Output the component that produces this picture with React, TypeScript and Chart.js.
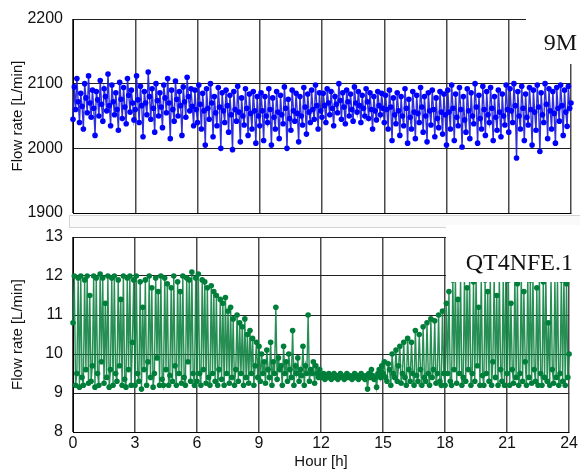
import React, { useEffect, useRef } from "react";
import { Chart, registerables } from "chart.js";
Chart.register(...registerables);

const HOUR_STEP = 0.0625; // sampling interval in hours
const X_MIN = 0;
const X_MAX = 24;
const X_STEP = 3;

const topLabel = "9M";
const bottomLabel = "QT4NFE.1";
const yTitle = "Flow rate [L/min]";
const xTitle = "Hour [h]";

const topYRange = [1900, 2200];
const topYStep = 100;
const bottomYRange = [8, 13];
const bottomYStep = 1;

// 9M flow rate [L/min]
const topValues = [
  2045, 2095, 2060, 2108, 2072, 2040, 2085, 2065, 2030, 2100, 2078, 2055, 2112, 2070, 2048, 2090, 2062, 2020, 2088, 2075, 2050, 2105, 2068, 2042,
  2092, 2080, 2058, 2115, 2066, 2035, 2098, 2072, 2052, 2086, 2060, 2028, 2102, 2076, 2046, 2094, 2064, 2038, 2108, 2082, 2056, 2090, 2070, 2044,
  2060, 2112, 2075, 2040, 2096, 2066, 2018, 2088, 2070, 2052, 2118, 2080, 2045, 2092, 2062, 2025, 2100, 2074, 2050, 2086, 2064, 2032, 2098, 2078,
  2055, 2108, 2070, 2015, 2090, 2060, 2042, 2104, 2076, 2050, 2088, 2066, 2020, 2095, 2072, 2048, 2110, 2080, 2058, 2092, 2065, 2035, 2090, 2060,
  2040, 2098, 2068, 2030, 2085, 2058, 2005, 2092, 2062, 2045, 2100, 2070, 2018, 2080, 2055, 2035, 2094, 2064, 2000, 2086, 2058, 2040, 2090, 2066,
  2025, 2082, 2052, 1998, 2088, 2060, 2042, 2096, 2056, 2010, 2078, 2050, 2036, 2092, 2062, 2020, 2084, 2054, 2030, 2088, 2058, 2008, 2080, 2050,
  2035, 2086, 2058, 2012, 2080, 2050, 2040, 2092, 2060, 2005, 2078, 2048, 2030, 2088, 2056, 2015, 2082, 2052, 2038, 2095, 2062, 2000, 2076, 2046,
  2028, 2090, 2058, 2042, 2085, 2054, 2010, 2080, 2050, 2036, 2094, 2064, 2022, 2084, 2056, 2040, 2090, 2060, 2045, 2098, 2066, 2030, 2086, 2058,
  2048, 2085, 2066, 2040, 2092, 2070, 2052, 2088, 2062, 2035, 2080, 2068, 2055, 2100, 2074, 2045, 2086, 2064, 2038, 2090, 2072, 2050, 2084, 2060,
  2042, 2095, 2070, 2056, 2088, 2066, 2040, 2082, 2062, 2050, 2092, 2072, 2046, 2086, 2060, 2030, 2080, 2058, 2044, 2088, 2066, 2052, 2085, 2062,
  2040, 2082, 2060, 2030, 2090, 2064, 2012, 2078, 2052, 2038, 2086, 2058, 2020, 2080, 2050, 2035, 2092, 2062, 2008, 2076, 2048, 2030, 2088, 2056,
  2015, 2082, 2054, 2040, 2094, 2064, 2025, 2080, 2050, 2010, 2086, 2058, 2036, 2090, 2060, 2018, 2078, 2046, 2032, 2088, 2056, 2022, 2084, 2052,
  2005, 2090, 2056, 2030, 2098, 2062, 2012, 2084, 2048, 2035, 2094, 2060, 2002, 2080, 2044, 2025, 2092, 2058, 2015, 2086, 2050, 2038, 2100, 2064,
  2008, 2082, 2046, 2030, 2096, 2060, 2020, 2088, 2052, 2040, 2094, 2062, 2012, 2080, 2048, 2028, 2090, 2056, 2018, 2084, 2050, 2036, 2098, 2060,
  2025, 2092, 2058, 2040, 2100, 2066, 1985, 2088, 2050, 2030, 2096, 2062, 2012, 2084, 2048, 2036, 2094, 2060, 2005, 2090, 2056, 2028, 2098, 2064,
  1995, 2086, 2052, 2040, 2100, 2068, 2015, 2092, 2058, 2030, 2088, 2054, 2008, 2094, 2062, 2042, 2098, 2066, 2020, 2090, 2056, 2034, 2096, 2062,
  2070,
];

// QT4NFE.1 flow rate [L/min]
const bottomValues = [
  10.8, 12.0, 9.2, 9.5, 11.95, 9.15, 12.0, 9.4, 9.2, 11.9, 9.6, 12.0, 9.25, 11.5, 9.3, 9.7, 12.0, 9.15, 11.95, 9.5, 9.2, 12.05, 9.8, 11.95,
  9.25, 11.3, 9.4, 12.0, 9.15, 9.6, 11.95, 9.2, 12.0, 9.5, 9.3, 11.9, 9.7, 11.4, 9.2, 12.0, 9.35, 9.15, 11.95, 9.6, 12.0, 9.2, 10.3, 11.9,
  9.2, 12.0, 9.5, 9.3, 11.85, 9.1, 11.2, 9.6, 11.9, 9.2, 9.8, 12.0, 9.4, 11.7, 9.15, 9.5, 11.95, 9.9, 11.6, 9.2, 12.0, 9.35, 9.2, 11.95,
  9.6, 11.8, 9.2, 9.45, 11.7, 9.3, 12.0, 9.7, 9.2, 11.85, 9.5, 11.6, 9.25, 12.0, 9.4, 9.2, 11.95, 9.8, 11.9, 9.3, 12.1, 9.5, 9.2, 11.95,
  9.3, 12.05, 9.5, 9.2, 11.9, 9.6, 11.85, 9.25, 11.7, 9.4, 9.2, 11.75, 9.5, 11.6, 9.3, 11.5, 9.2, 9.6, 11.4, 9.35, 11.3, 9.2, 11.45, 9.5,
  11.1, 9.25, 11.2, 9.4, 10.9, 9.2, 9.6, 11.0, 9.3, 10.8, 9.5, 10.7, 9.2, 10.9, 9.4, 10.5, 9.25, 10.6, 9.5, 10.4, 9.2, 9.7, 10.3, 9.4,
  10.2, 9.3, 10.0, 9.5, 9.8, 9.25, 10.1, 9.6, 9.4, 10.3, 9.2, 9.8, 9.5, 11.2, 9.35, 9.9, 9.6, 9.7, 9.2, 10.2, 9.5, 9.8, 9.3, 10.0,
  9.6, 9.4, 10.6, 9.2, 9.7, 9.5, 9.9, 9.3, 9.6, 9.45, 10.2, 9.2, 9.7, 9.5, 11.0, 9.3, 9.6, 9.5, 9.8, 9.25, 9.7, 9.5, 9.4, 9.6,
  9.45, 9.4, 9.5, 9.35, 9.45, 9.4, 9.5, 9.45, 9.35, 9.4, 9.5, 9.4, 9.45, 9.35, 9.4, 9.5, 9.45, 9.4, 9.35, 9.45, 9.5, 9.4, 9.45, 9.4,
  9.35, 9.45, 9.5, 9.4, 9.45, 9.35, 9.4, 9.5, 9.45, 9.4, 9.35, 9.45, 9.1, 9.5, 9.4, 9.6, 9.45, 9.35, 9.4, 9.15, 9.5, 9.6, 9.4, 9.7,
  9.5, 9.8, 9.4, 9.3, 9.75, 9.6, 9.2, 10.0, 9.5, 9.4, 10.1, 9.3, 9.7, 10.2, 9.25, 9.5, 10.3, 9.4, 9.2, 10.4, 9.6, 9.3, 10.3, 9.5,
  9.2, 10.6, 9.45, 9.3, 10.5, 9.6, 9.2, 10.7, 9.4, 9.3, 10.8, 9.5, 9.2, 10.9, 9.4, 9.6, 10.85, 9.25, 9.5, 11.0, 9.3, 9.2, 11.1, 9.5,
  9.2, 11.3, 9.5, 11.6, 9.3, 9.2, 11.9, 9.6, 12.0, 9.25, 11.4, 9.5, 12.0, 9.2, 9.4, 11.95, 9.3, 11.7, 9.6, 12.0, 9.2, 9.5, 11.85, 9.3,
  12.0, 9.7, 11.2, 9.2, 12.0, 9.45, 9.2, 11.9, 9.5, 11.6, 9.3, 12.0, 9.2, 9.8, 12.0, 9.4, 11.5, 9.2, 12.0, 9.6, 9.3, 11.95, 9.2, 12.0,
  9.5, 11.9, 9.2, 11.3, 9.6, 9.25, 12.0, 9.4, 11.8, 9.2, 9.5, 12.0, 9.3, 11.6, 9.8, 9.2, 12.0, 9.4, 11.9, 9.25, 12.0, 9.6, 9.3, 11.7,
  9.2, 12.0, 9.5, 9.2, 11.85, 9.4, 12.0, 9.3, 10.8, 9.2, 12.0, 9.6, 9.25, 11.95, 9.4, 12.0, 9.2, 9.5, 11.9, 9.3, 12.0, 9.2, 11.8, 9.4,
  10.0,
];

const FONT = "'Liberation Sans', Arial, sans-serif";
const SERIF = "'Liberation Serif', 'Times New Roman', serif";

type PanelOpts = {
  values: number[];
  yRange: number[];
  yStep: number;
  pointColor: string;
  lineColor: string;
  showX: boolean;
  xAxisHeight: number;
  padTop: number;
  label: string;
  box: { x0: number; y1: number; textRight: number; baseline: number };
};

function makeChart(canvas: HTMLCanvasElement, o: PanelOpts) {
  const data = o.values.map((v, i) => ({ x: i * HOUR_STEP, y: v }));
  const labelPlugin = {
    id: "cornerLabel",
    afterDraw(chart: any) {
      const ctx = chart.ctx;
      ctx.save();
      ctx.fillStyle = "#ffffff";
      ctx.fillRect(o.box.x0, 0, chart.width - o.box.x0, o.box.y1);
      ctx.fillStyle = "#111";
      ctx.font = `24px ${SERIF}`;
      ctx.textAlign = "right";
      ctx.textBaseline = "alphabetic";
      ctx.fillText(o.label, o.box.textRight, o.box.baseline);
      ctx.restore();
    },
  };
  return new Chart(canvas, {
    type: "line",
    data: {
      datasets: [
        {
          data,
          borderColor: o.lineColor,
          borderWidth: 1.4,
          pointRadius: 2.8,
          pointBorderWidth: 0,
          pointBackgroundColor: o.pointColor,
          pointBorderColor: o.pointColor,
          tension: 0,
          clip: false as any,
        },
      ],
    },
    options: {
      responsive: false,
      animation: false,
      events: [],
      layout: { padding: { top: o.padTop, right: 9, left: 0, bottom: 0 } },
      plugins: { legend: { display: false }, tooltip: { enabled: false } },
      scales: {
        x: {
          type: "linear",
          min: X_MIN,
          max: X_MAX,
          ticks: {
            display: o.showX,
            stepSize: X_STEP,
            padding: 2,
            color: "#111",
            font: { family: FONT, size: 16 },
            callback: (v: any) => String(v),
          },
          grid: { color: "#4a4a4a", lineWidth: 1.5, drawTicks: false },
          border: { display: true, color: "#000", width: 1 },
          title: {
            display: o.showX,
            text: xTitle,
            color: "#111",
            font: { family: FONT, size: 15, lineHeight: 1 },
            padding: { top: 0, bottom: 0 },
          },
          afterFit: (s: any) => {
            s.height = o.xAxisHeight;
          },
        },
        y: {
          type: "linear",
          min: o.yRange[0],
          max: o.yRange[1],
          ticks: {
            stepSize: o.yStep,
            padding: 0,
            color: "#111",
            font: { family: FONT, size: 16 },
            callback: (v: any) => String(v),
          },
          grid: { color: "#222", lineWidth: 1, drawTicks: true, tickLength: 10, tickColor: "rgba(0,0,0,0)" },
          border: { display: true, color: "#000", width: 1 },
          title: {
            display: true,
            text: yTitle,
            color: "#111",
            font: { family: FONT, size: 15 },
            padding: { top: 9, bottom: 0 },
          },
          afterFit: (s: any) => {
            s.width = 73;
          },
        },
      },
    },
    plugins: [labelPlugin],
  } as any);
}

export default function App() {
  const topRef = useRef<HTMLCanvasElement>(null);
  const botRef = useRef<HTMLCanvasElement>(null);

  useEffect(() => {
    const c1 = makeChart(topRef.current!, {
      values: topValues,
      yRange: topYRange,
      yStep: topYStep,
      pointColor: "#0000ff",
      lineColor: "rgba(25,25,215,0.9)",
      showX: false,
      xAxisHeight: 12,
      padTop: 19,
      label: topLabel,
      box: { x0: 526, y1: 64, textRight: 577, baseline: 50 },
    });
    const c2 = makeChart(botRef.current!, {
      values: bottomValues,
      yRange: bottomYRange,
      yStep: bottomYStep,
      pointColor: "#007f3a",
      lineColor: "rgba(15,130,65,0.9)",
      showX: true,
      xAxisHeight: 37,
      padTop: 12,
      label: bottomLabel,
      box: { x0: 446, y1: 57, textRight: 573, baseline: 45 },
    });
    return () => {
      c1.destroy();
      c2.destroy();
    };
  }, []);

  return (
    <div style={{ position: "fixed", left: 0, top: 0, width: 580, height: 469, background: "#fff", overflow: "hidden" }}>
      <div
        style={{
          position: "absolute",
          left: 69,
          top: 215,
          width: 520,
          height: 11,
          border: "1px solid #d4d4d4",
          background: "#fafafa",
        }}
      />
      <canvas ref={topRef} width={580} height={225} style={{ position: "absolute", left: 0, top: 0, display: "block" }} />
      <canvas ref={botRef} width={580} height={244} style={{ position: "absolute", left: 0, top: 225, display: "block" }} />
    </div>
  );
}
